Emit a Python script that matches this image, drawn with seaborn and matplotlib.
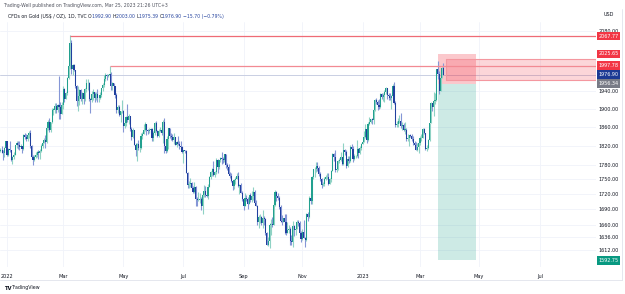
import numpy as np
import pandas as pd
import matplotlib
matplotlib.use("Agg")
import matplotlib.pyplot as plt
from matplotlib.ticker import NullLocator, NullFormatter
from matplotlib.lines import Line2D
import seaborn as sns

sns.set_theme(style="white")
plt.rcParams["font.family"] = ["DejaVu Sans"]

# daily gold CFD, 27 Dec 2021 .. 24 Mar 2023 (weekdays)
start_day = "2021-12-27"
first_open = 1809.0
close = [
    1811, 1810, 1805, 1815, 1829,
    1801, 1814, 1810, 1789, 1797, 1801, 1821, 1826, 1821, 1817,
    1819, 1813, 1843, 1839, 1835, 1843, 1848, 1819, 1797, 1791,
    1797, 1801, 1807, 1804, 1808, 1820, 1826, 1833, 1827, 1859,
    1870, 1853, 1870, 1898, 1898, 1906, 1898, 1909, 1903, 1889,
    1909, 1944, 1922, 1936, 1970, 1998, 2050, 1989, 2000, 1988,
    1951, 1918, 1929, 1943, 1921, 1936, 1921, 1944, 1958, 1958,
    1922, 1919, 1933, 1937, 1925, 1932, 1923, 1925, 1931, 1946,
    1954, 1966, 1977, 1974, 1976, 1979, 1950, 1958, 1951, 1931,
    1898, 1905, 1886, 1894, 1896, 1863, 1868, 1881, 1876, 1883,
    1855, 1838, 1853, 1821, 1811, 1824, 1815, 1816, 1841, 1846,
    1853, 1866, 1853, 1851, 1853, 1856, 1837, 1847, 1869, 1851,
    1841, 1852, 1853, 1848, 1871, 1819, 1808, 1835, 1857, 1840,
    1839, 1832, 1838, 1822, 1827, 1823, 1820, 1818, 1807, 1811,
    1808, 1764, 1739, 1740, 1742, 1733, 1725, 1735, 1711, 1708,
    1709, 1711, 1696, 1718, 1727, 1719, 1717, 1735, 1755, 1766,
    1772, 1760, 1765, 1791, 1775, 1789, 1794, 1792, 1789, 1802,
    1779, 1776, 1761, 1758, 1747, 1736, 1748, 1751, 1758, 1737,
    1738, 1723, 1711, 1697, 1712, 1710, 1701, 1718, 1708, 1716,
    1724, 1702, 1697, 1665, 1675, 1675, 1664, 1673, 1671, 1644,
    1622, 1629, 1659, 1661, 1660, 1699, 1725, 1716, 1712, 1695,
    1668, 1666, 1673, 1666, 1644, 1650, 1652, 1629, 1627, 1657,
    1649, 1652, 1665, 1663, 1645, 1633, 1647, 1635, 1630, 1681,
    1676, 1712, 1706, 1755, 1771, 1771, 1777, 1774, 1762, 1751,
    1738, 1740, 1750, 1755, 1755, 1741, 1750, 1768, 1803, 1797,
    1769, 1771, 1787, 1789, 1797, 1781, 1810, 1807, 1777, 1793,
    1788, 1818, 1814, 1792, 1798, 1798, 1813, 1804, 1815, 1824,
    1827, 1839, 1855, 1833, 1866, 1872, 1877, 1876, 1897, 1920,
    1916, 1908, 1904, 1932, 1926, 1931, 1937, 1946, 1930, 1928,
    1923, 1928, 1951, 1912, 1865, 1867, 1873, 1874, 1862, 1865,
    1854, 1854, 1835, 1836, 1842, 1841, 1835, 1825, 1822, 1811,
    1817, 1826, 1836, 1836, 1855, 1847, 1813, 1815, 1832, 1868,
    1913, 1903, 1918, 1919, 1989, 1979, 1940, 1970, 1992.9, 1976.9,
]
high = [
    1815, 1819, 1811, 1817, 1831,
    1831, 1815, 1829, 1812, 1799, 1806, 1822, 1829, 1829, 1829,
    1823, 1820, 1844, 1847, 1846, 1845, 1852, 1853, 1822, 1801,
    1801, 1806, 1808, 1810, 1814, 1823, 1829, 1836, 1842, 1864,
    1875, 1879, 1872, 1902, 1902, 1913, 1913, 1910, 1974, 1914,
    1915, 1950, 1947, 1937, 1971, 2002, 2070, 2058, 2001, 2001,
    1988, 1954, 1950, 1945, 1945, 1937, 1938, 1946, 1966, 1966,
    1960, 1923, 1939, 1944, 1937, 1937, 1944, 1930, 1937, 1947,
    1958, 1976, 1981, 1978, 1979, 1998, 1982, 1960, 1958, 1952,
    1935, 1908, 1908, 1895, 1919, 1898, 1873, 1883, 1910, 1889,
    1885, 1860, 1858, 1853, 1826, 1826, 1832, 1822, 1847, 1850,
    1866, 1870, 1867, 1856, 1857, 1858, 1858, 1852, 1870, 1874,
    1854, 1856, 1860, 1857, 1876, 1879, 1833, 1841, 1857, 1857,
    1847, 1844, 1847, 1838, 1830, 1841, 1829, 1829, 1820, 1812,
    1812, 1811, 1765, 1747, 1752, 1745, 1737, 1745, 1736, 1715,
    1724, 1723, 1714, 1720, 1739, 1736, 1729, 1740, 1757, 1767,
    1773, 1788, 1767, 1794, 1793, 1790, 1797, 1807, 1796, 1802,
    1801, 1784, 1781, 1765, 1763, 1748, 1750, 1754, 1764, 1765,
    1740, 1743, 1726, 1711, 1723, 1719, 1715, 1719, 1722, 1726,
    1735, 1728, 1709, 1698, 1679, 1681, 1677, 1688, 1677, 1674,
    1647, 1637, 1664, 1671, 1675, 1705, 1729, 1726, 1722, 1717,
    1699, 1679, 1674, 1680, 1680, 1666, 1659, 1656, 1640, 1667,
    1660, 1658, 1670, 1670, 1667, 1648, 1652, 1669, 1636, 1683,
    1684, 1717, 1722, 1757, 1772, 1775, 1786, 1786, 1777, 1765,
    1753, 1745, 1755, 1760, 1763, 1764, 1752, 1769, 1805, 1804,
    1810, 1773, 1790, 1794, 1807, 1797, 1825, 1814, 1810, 1798,
    1798, 1822, 1823, 1820, 1802, 1800, 1833, 1815, 1820, 1826,
    1829, 1851, 1866, 1858, 1870, 1881, 1877, 1880, 1899, 1922,
    1924, 1920, 1921, 1936, 1936, 1935, 1942, 1949, 1946, 1935,
    1935, 1930, 1955, 1959, 1918, 1874, 1880, 1886, 1890, 1870,
    1868, 1870, 1858, 1844, 1843, 1846, 1844, 1840, 1829, 1827,
    1825, 1829, 1840, 1844, 1857, 1858, 1848, 1822, 1834, 1869,
    1915, 1913, 1937, 1935, 1989, 2009, 1985, 1975, 1995, 2003.0,
]
low = [
    1806, 1804, 1790, 1797, 1812,
    1799, 1799, 1806, 1788, 1782, 1792, 1800, 1815, 1814, 1812,
    1815, 1805, 1812, 1835, 1830, 1829, 1836, 1816, 1795, 1780,
    1787, 1795, 1797, 1793, 1792, 1806, 1815, 1825, 1815, 1826,
    1853, 1849, 1849, 1868, 1887, 1891, 1890, 1893, 1878, 1878,
    1888, 1900, 1915, 1921, 1931, 1966, 1990, 1979, 1976, 1985,
    1947, 1906, 1895, 1909, 1917, 1910, 1910, 1918, 1938, 1942,
    1917, 1890, 1914, 1920, 1915, 1919, 1916, 1915, 1921, 1926,
    1939, 1948, 1962, 1964, 1972, 1971, 1942, 1943, 1938, 1924,
    1891, 1891, 1883, 1872, 1890, 1850, 1857, 1863, 1872, 1867,
    1851, 1832, 1836, 1821, 1799, 1787, 1811, 1807, 1814, 1834,
    1845, 1852, 1843, 1844, 1848, 1847, 1829, 1829, 1843, 1850,
    1839, 1838, 1849, 1842, 1825, 1805, 1805, 1807, 1814, 1836,
    1833, 1830, 1824, 1822, 1817, 1822, 1813, 1812, 1805, 1784,
    1804, 1763, 1733, 1732, 1735, 1730, 1722, 1723, 1697, 1697,
    1706, 1703, 1689, 1681, 1714, 1714, 1714, 1711, 1735, 1750,
    1758, 1758, 1754, 1762, 1763, 1772, 1786, 1782, 1784, 1786,
    1773, 1770, 1760, 1752, 1745, 1728, 1731, 1740, 1751, 1734,
    1720, 1722, 1707, 1688, 1696, 1707, 1690, 1700, 1705, 1705,
    1708, 1698, 1697, 1660, 1654, 1663, 1660, 1654, 1660, 1640,
    1621, 1620, 1615, 1641, 1656, 1660, 1697, 1707, 1708, 1690,
    1665, 1660, 1665, 1642, 1641, 1644, 1644, 1621, 1621, 1617,
    1638, 1641, 1652, 1657, 1640, 1627, 1631, 1634, 1617, 1629,
    1667, 1673, 1701, 1701, 1750, 1754, 1766, 1767, 1756, 1746,
    1733, 1737, 1736, 1749, 1751, 1739, 1741, 1745, 1767, 1788,
    1765, 1765, 1769, 1783, 1787, 1780, 1779, 1800, 1774, 1775,
    1784, 1785, 1810, 1785, 1791, 1795, 1797, 1795, 1803, 1812,
    1823, 1828, 1836, 1825, 1831, 1865, 1868, 1867, 1867, 1895,
    1911, 1898, 1899, 1901, 1922, 1918, 1916, 1934, 1921, 1920,
    1920, 1900, 1923, 1910, 1861, 1860, 1860, 1868, 1858, 1853,
    1852, 1845, 1829, 1830, 1819, 1838, 1831, 1822, 1820, 1810,
    1808, 1804, 1822, 1831, 1836, 1846, 1812, 1809, 1814, 1830,
    1868, 1896, 1885, 1910, 1918, 1966, 1934, 1939, 1970, 1975.39,
]

# drawings
level_values = [2067.77, 2025.65, 1997.78, 1976.90, 1956.34, 1592.75]
level_colors = ["#f23645", "#f23645", "#f23645", "#1c3a94", "#787b86", "#089981"]
grid_ticks = [2080, 1940, 1900, 1860, 1820, 1780, 1750, 1720, 1690, 1660, 1636, 1612]
line_hi = (2067.77, "2022-03-08")
line_mid = (1997.78, "2022-04-18")
pos_entry, pos_stop, pos_target = 1956.34, 2025.65, 1592.75
pos_dates = ("2023-03-20", "2023-04-27")
zone_top, zone_bottom, zone_start = 2013.0, 1965.0, "2023-03-28"
header_vals = [("O", "1992.90"), ("H", "2003.00"), ("L", "1975.39"), ("C", "1976.90"),
               ("", "\u221215.70 (\u22120.79%)")]

n = len(close)
opens = [first_open] + close[:-1]
cal = pd.bdate_range(start_day, periods=440)
idx = {d: i for i, d in enumerate(cal)}
df = pd.DataFrame({"o": opens, "h": high, "l": low, "c": close}, index=cal[:n])
df["x"] = np.arange(n)
df["up"] = df["c"] >= df["o"]

W, H = 625, 294
x_end = 435.7
fig = plt.figure(figsize=(W / 100, H / 100), dpi=100)
fig.patch.set_facecolor("white")
ax = fig.add_axes([0, 27 / H, 596 / W, 245 / H])
ax.set_yscale("log")
ax.set_xlim(-0.12, x_end)
ax.set_ylim(1580.4, 2101.9)

up_body, up_wick = "#22a08f", "#8fd2c4"
dn_body, dn_wick = "#21409e", "#8596d6"
wick_c = np.where(df["up"], up_wick, dn_wick)
body_c = np.where(df["up"], up_body, dn_body)
lo = np.minimum(df["l"], np.minimum(df["o"], df["c"]))
hi = np.maximum(df["h"], np.maximum(df["o"], df["c"]))
ax.vlines(df["x"], lo, hi, colors=wick_c, lw=0.8, zorder=3)
bot = np.minimum(df["o"], df["c"])
ht = np.maximum(np.abs(df["c"] - df["o"]), 0.8)
ax.bar(df["x"], ht, bottom=bot, width=0.8, color=body_c, lw=0, zorder=4)

ax.hlines(line_hi[0], idx[pd.Timestamp(line_hi[1])], x_end, color="#ef6b76", lw=0.9, zorder=5)
ax.hlines(line_mid[0], idx[pd.Timestamp(line_mid[1])], x_end, color="#f28a93", lw=0.9, zorder=5)
ax.axhline(close[-1], color="#c9cfe3", lw=0.7, zorder=2)

p0, p1 = idx[pd.Timestamp(pos_dates[0])], idx[pd.Timestamp(pos_dates[1])]
ax.fill_between([p0, p1], pos_entry, pos_stop, color="#f23645", alpha=0.27, lw=0, zorder=2)
ax.fill_between([p0, p1], pos_target, pos_entry, color="#089981", alpha=0.2, lw=0, zorder=2)
z0 = idx[pd.Timestamp(zone_start)]
ax.fill_between([z0, x_end], zone_bottom, zone_top, color="#f23645", alpha=0.2, lw=0, zorder=2)
ax.plot([z0, x_end, x_end, z0, z0], [zone_bottom, zone_bottom, zone_top, zone_top, zone_bottom],
        color="#f4979f", lw=0.8, zorder=2)

# month ticks (every other month, first trading day)
month_pos, month_lab = [], []
for d in cal:
    if idx[d] > x_end - 10:
        break
    if d.month % 2 == 1 and d.day <= 5 and (not month_pos or cal[month_pos[-1]].month != d.month):
        month_pos.append(idx[d])
        month_lab.append(str(d.year) if d.month == 1 else d.strftime("%b"))
ax.set_xticks(month_pos)
ax.set_xticklabels(month_lab, fontsize=3.6, color="#131722")
ax.tick_params(axis="x", length=0, pad=5)

ax.yaxis.tick_right()
ax.set_yticks(grid_ticks)
ax.set_yticklabels([f"{v:.2f}" for v in grid_ticks], fontsize=3.5, color="#131722")
ax.yaxis.set_minor_locator(NullLocator())
ax.yaxis.set_minor_formatter(NullFormatter())
ax.tick_params(axis="y", length=0, pad=2)
ax.grid(True, color="#f0f3fa", lw=0.6)
for s in ax.spines.values():
    s.set_visible(False)

for v, c in zip(level_values, level_colors):
    ax.text(1.004, v, f"{v:.2f}", transform=ax.get_yaxis_transform(), ha="left", va="center",
            fontsize=3.5, color="white", clip_on=False, zorder=10,
            bbox=dict(boxstyle="square,pad=0.35", fc=c, ec="none"))


def fy(y):
    return 1 - y / H


fig.add_artist(Line2D([0, 622 / W], [fy(280), fy(280)], color="#e0e3eb", lw=0.6))
fig.add_artist(Line2D([622 / W, 622 / W], [fy(9), fy(280)], color="#e0e3eb", lw=0.6))
fig.text(3 / W, fy(5.5), "Trading-Well published on TradingView.com, Mar 25, 2023 21:26 UTC+3",
         fontsize=3.3, color="#50535e", va="center")
anchor = fig.text(8 / W, fy(16.5), "CFDs on Gold (US$ / OZ), 1D, TVC ", fontsize=3.3,
                  color="#131722", va="center")
for lab, val in header_vals:
    if lab:
        anchor = ax.annotate(lab, xy=(1, 0.5), xycoords=anchor, va="center", ha="left",
                             fontsize=3.3, color="#131722", annotation_clip=False)
    anchor = ax.annotate(val + " ", xy=(1, 0.5), xycoords=anchor, va="center", ha="left",
                         fontsize=3.3, color="#2846a0", annotation_clip=False)
fig.text(604 / W, fy(15), "USD", fontsize=3.5, color="#131722", va="center")
fig.text(4 / W, fy(288), "TV", fontsize=3.8, color="#131722", weight="bold", va="center")
fig.text(12 / W, fy(288), "TradingView", fontsize=3.4, color="#131722", va="center")

fig.savefig("out.png", dpi=100, facecolor="white")
